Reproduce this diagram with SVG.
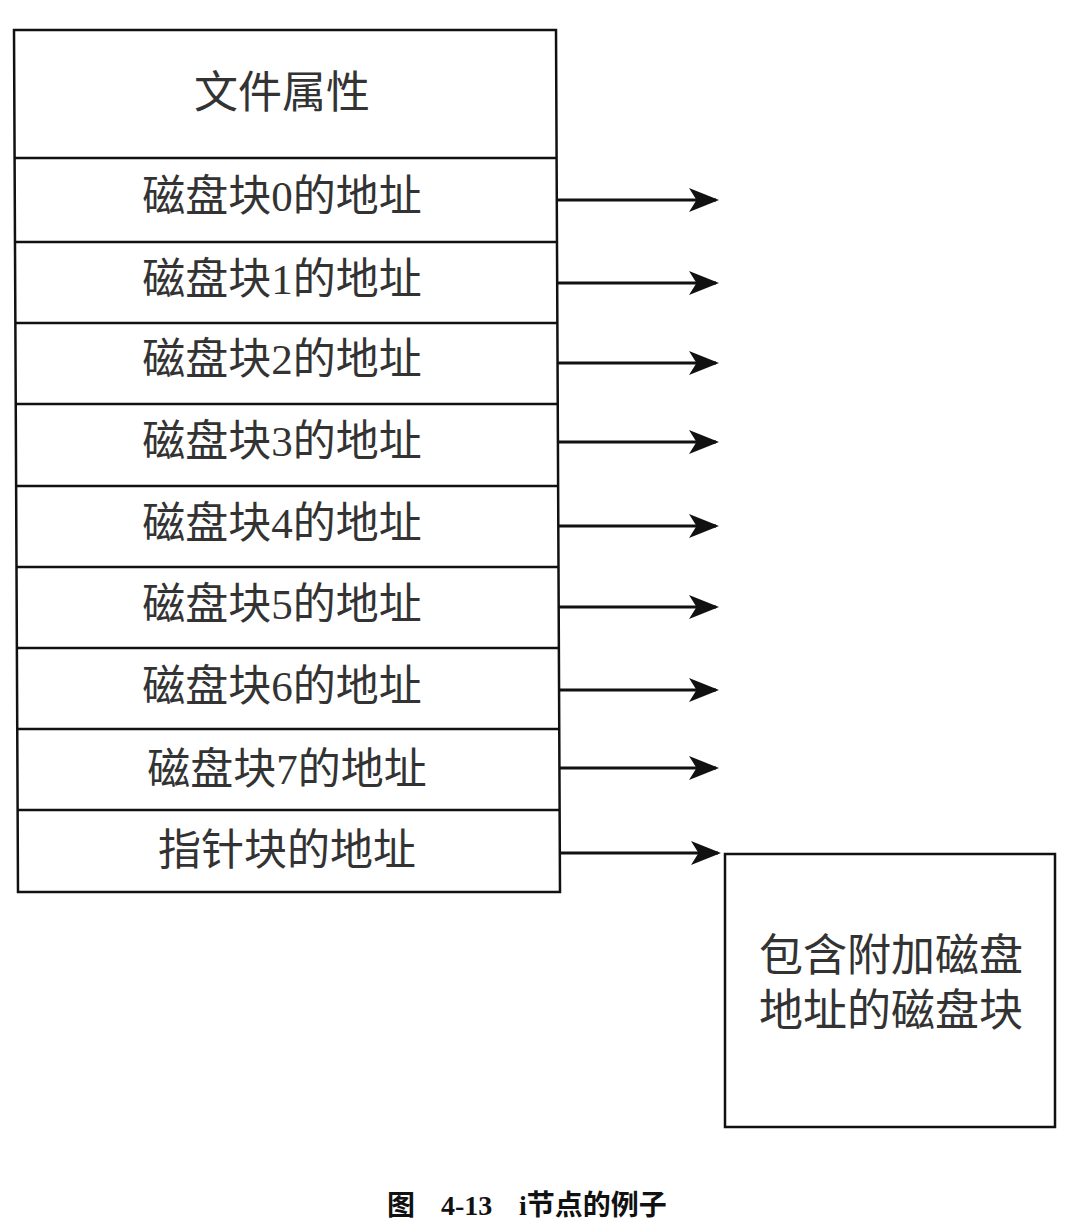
<svg xmlns="http://www.w3.org/2000/svg" width="1068" height="1230" viewBox="0 0 1068 1230">
<style>
.box{fill:#fff;stroke:#111;stroke-width:2.5}
.ln{stroke:#111;stroke-width:2.5}
.t{font-family:"Liberation Serif","Noto Sans CJK SC",serif;font-size:43px;fill:#333;text-anchor:middle}
.big{font-size:44px}
.arr{stroke:#111;stroke-width:3;fill:none;marker-end:url(#ah)}
.cap{font-family:"Liberation Serif","Noto Sans CJK SC",serif;font-size:28px;font-weight:bold;fill:#111}
</style>
<defs>
<marker id="ah" markerWidth="10" markerHeight="8" refX="9" refY="4" orient="auto" markerUnits="strokeWidth">
<path d="M0,0 L10,4 L0,8 L2.5,4 Z" fill="#111"/>
</marker>
</defs>
<rect width="1068" height="1230" fill="#fff"/>
<g id="inode">
<polygon class="box" points="14,30 556,30 560,892 18,892"/>
<line class="ln" x1="14.6" y1="158" x2="556.6" y2="158"/>
<line class="ln" x1="15" y1="242" x2="557" y2="242"/>
<line class="ln" x1="15.4" y1="323" x2="557.4" y2="323"/>
<line class="ln" x1="15.8" y1="404" x2="557.8" y2="404"/>
<line class="ln" x1="16.1" y1="486" x2="558.1" y2="486"/>
<line class="ln" x1="16.5" y1="567" x2="558.5" y2="567"/>
<line class="ln" x1="16.9" y1="648" x2="558.9" y2="648"/>
<line class="ln" x1="17.3" y1="729" x2="559.3" y2="729"/>
<line class="ln" x1="17.6" y1="810" x2="559.6" y2="810"/>
</g>
<g id="labels">
<text class="t big" x="282" y="108">文件属性</text>
<text class="t" x="282" y="211">磁盘块0的地址</text>
<text class="t" x="282" y="294">磁盘块1的地址</text>
<text class="t" x="282" y="374">磁盘块2的地址</text>
<text class="t" x="282" y="456">磁盘块3的地址</text>
<text class="t" x="282" y="538">磁盘块4的地址</text>
<text class="t" x="282" y="619">磁盘块5的地址</text>
<text class="t" x="282" y="701">磁盘块6的地址</text>
<text class="t" x="287" y="784">磁盘块7的地址</text>
<text class="t" x="287" y="865">指针块的地址</text>
</g>
<g id="connectors">
<line class="arr" x1="557" y1="200" x2="716" y2="200"/>
<line class="arr" x1="557" y1="283" x2="716" y2="283"/>
<line class="arr" x1="558" y1="363" x2="716" y2="363"/>
<line class="arr" x1="558" y1="442" x2="716" y2="442"/>
<line class="arr" x1="558" y1="526" x2="716" y2="526"/>
<line class="arr" x1="559" y1="607" x2="716" y2="607"/>
<line class="arr" x1="559" y1="690" x2="716" y2="690"/>
<line class="arr" x1="560" y1="768" x2="716" y2="768"/>
<line class="arr" x1="560" y1="853" x2="718" y2="853"/>
</g>
<g id="extra-block">
<rect class="box" x="725" y="854" width="330" height="273"/>
<text class="t big" x="891" y="971">包含附加磁盘</text>
<text class="t big" x="891" y="1026">地址的磁盘块</text>
</g>
<g id="caption">
<text class="cap" x="387" y="1215">图</text>
<text class="cap" x="441" y="1215">4-13</text>
<text class="cap" x="519" y="1215">i节点的例子</text>
</g>
</svg>
